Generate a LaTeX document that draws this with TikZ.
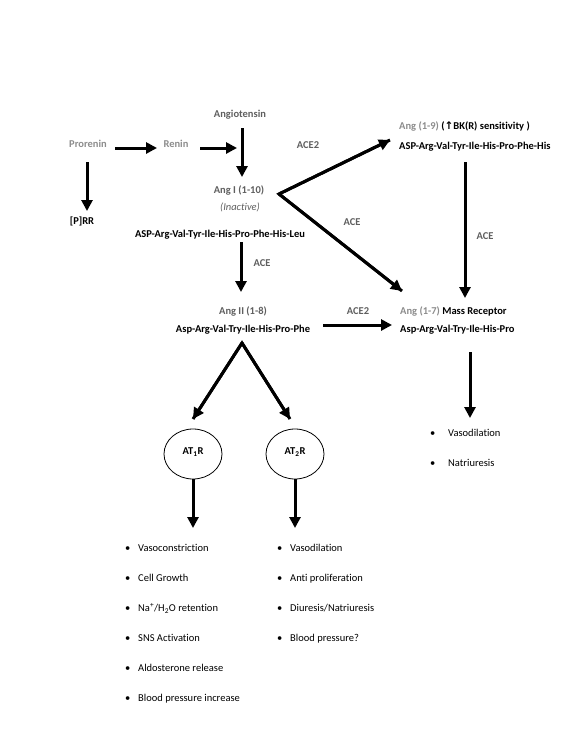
\documentclass[tikz,border=0pt]{standalone}
\usepackage{fontspec}
\setmainfont{Carlito}[Ligatures=NoCommon]
\newfontfamily\symfont{DejaVu Sans}
\usetikzlibrary{arrows.meta,shapes.geometric}
\definecolor{ltgrey}{RGB}{140,140,140}
\definecolor{dkgrey}{RGB}{95,95,95}
\tikzset{
  lbl/.style={inner sep=0pt, anchor=mid, font=\fontsize{10.5}{12}\selectfont\bfseries},
  item/.style={inner sep=0pt, anchor=mid west, font=\fontsize{10.5}{12}\selectfont},
  flow/.style={line width=3pt, -{Triangle[length=11pt,width=11pt]}},
  rcpt/.style={ellipse, draw, line width=0.8pt, minimum width=58pt, minimum height=50pt, inner sep=0pt}
}
\newcommand{\dotitem}[1]{\makebox[13pt][l]{\textbullet}#1}
\begin{document}
\begin{tikzpicture}[x=1pt,y=-1pt]
\useasboundingbox (0,0) rectangle (580,750);
\node[lbl, ltgrey] (prorenin) at (88,145){Prorenin};
\node[lbl, ltgrey] (renin) at (176,145){Renin};
\node[lbl, dkgrey] (angiotensin) at (240,115){Angiotensin};
\node[lbl] (prr) at (82,222){[P]RR};
\node[lbl, dkgrey] (angI) at (239,191){Ang I (1-10)};
\node[lbl, dkgrey, font=\fontsize{10.5}{12}\selectfont\itshape] (inactive) at (240,208){(Inactive)};
\node[lbl] (seqI) at (220,235){ASP-Arg-Val-Tyr-Ile-His-Pro-Phe-His-Leu};
\node[lbl, anchor=mid west] (ang19) at (399,127){\textcolor{ltgrey}{Ang (1-9)} ({\symfont ↑}BK(R) sensitivity )};
\node[lbl, anchor=mid west] (seq19) at (399,147){ASP-Arg-Val-Tyr-Ile-His-Pro-Phe-His};
\node[lbl, dkgrey] (angII) at (243,312){Ang II (1-8)};
\node[lbl] (seqII) at (243,330){Asp-Arg-Val-Try-Ile-His-Pro-Phe};
\node[lbl, anchor=mid west] (ang17) at (400,312){\textcolor{ltgrey}{Ang (1-7)} Mass Receptor};
\node[lbl, anchor=mid west] (seq17) at (400,330){Asp-Arg-Val-Try-Ile-His-Pro};
\node[lbl, dkgrey] (aceI) at (262,264){ACE};
\node[lbl, dkgrey] (ace2top) at (308,146){ACE2};
\node[lbl, dkgrey] (acediag) at (352,223){ACE};
\node[lbl, dkgrey] (aceright) at (485,237){ACE};
\node[lbl, dkgrey] (ace2mid) at (358,312){ACE2};
\node[rcpt, lbl, anchor=center] (at1r) at (193,454){\raisebox{6pt}{AT\textsubscript{1}R}};
\node[rcpt, lbl, anchor=center] (at2r) at (295,454){\raisebox{6pt}{AT\textsubscript{2}R}};
\coordinate (apexI) at (279,194);
\coordinate (apexII) at (242,343);
\coordinate (tip19) at (390,140);
\coordinate (tip17) at (402,291);
\coordinate (proA) at (115,148);
\coordinate (proB) at (157,148);
\coordinate (renA) at (200,148);
\coordinate (renB) at (237,148);
\node[item] (l1) at (125,549){\dotitem{Vasoconstriction}};
\node[item] (l2) at (125,579){\dotitem{Cell Growth}};
\node[item] (l3) at (125,609){\dotitem{Na\textsuperscript{+}/H\textsubscript{2}O retention}};
\node[item] (l4) at (125,639){\dotitem{SNS Activation}};
\node[item] (l5) at (125,669){\dotitem{Aldosterone release}};
\node[item] (l6) at (125,699){\dotitem{Blood pressure increase}};
\node[item] (r1) at (277,549){\dotitem{Vasodilation}};
\node[item] (r2) at (277,579){\dotitem{Anti proliferation}};
\node[item] (r3) at (277,609){\dotitem{Diuresis/Natriuresis}};
\node[item] (r4) at (277,639){\dotitem{Blood pressure?}};
\node[item] (s1) at (430,434){\makebox[18pt][l]{\textbullet}Vasodilation};
\node[item] (s2) at (430,464){\makebox[18pt][l]{\textbullet}Natriuresis};
\draw[flow] (proA) -- (proB);
\draw[flow] (renA) -- (renB);
\draw[flow] (242,128) -- (242,177);
\draw[flow] (87,162) -- (87,211);
\draw[line width=3pt, line join=miter] (tip19) -- (apexI) -- (tip17);
\draw[flow] (apexI) -- (tip19);
\draw[flow] (apexI) -- (tip17);
\draw[flow] (465,162) -- (465,298);
\draw[flow] (241,242) -- (241,292);
\draw[flow] (323,325) -- (392,325);
\draw[line width=3pt, line join=miter] (193,419) -- (apexII) -- (290,419);
\draw[flow] (apexII) -- (193,419);
\draw[flow] (apexII) -- (290,419);
\draw[flow] (at1r) -- (193,528);
\draw[flow] (at2r) -- (295,528);
\draw[flow] (470,352) -- (470,418);
\end{tikzpicture}
\end{document}
